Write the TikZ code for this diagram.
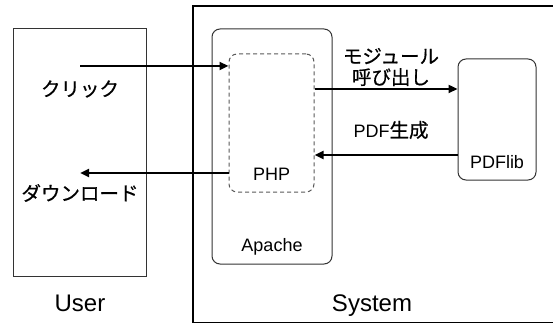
\documentclass[tikz,border=0pt]{standalone}
\usepackage{fontspec}
\setmainfont{Liberation Sans}
\newfontfamily\cjk[FakeBold=0.6]{Noto Sans CJK JP}
\usetikzlibrary{arrows.meta}
\begin{document}
\begin{tikzpicture}[x=1pt,y=-1pt,
  box/.style={draw=black!80, line width=1pt, inner sep=0},
  conn/.style={line width=2.4pt, -{Triangle[length=9pt,width=8pt]}},
  lbl/.style={inner sep=0, font=\fontsize{18}{21}\selectfont},
  jlbl/.style={inner sep=0, align=center, font=\cjk\fontsize{19.5}{21}\selectfont},
  big/.style={inner sep=0, font=\fontsize{24}{26}\selectfont}]
\useasboundingbox (0,0) rectangle (553,323);
\clip (0,0) rectangle (553,323);
% containers
\node[box, minimum width=133pt, minimum height=247pt] (user) at (79.5,152.5) {};
\node[draw=black, line width=2pt, inner sep=0, minimum width=360.6pt, minimum height=316.6pt] (system) at (373.3,164.3) {};
\node[box, rounded corners=8pt, minimum width=120pt, minimum height=235pt] (apache) at (272,146.5) {};
\node[draw=black!65, line width=1pt, dash pattern=on 4pt off 3pt, rounded corners=8pt, inner sep=0, minimum width=85pt, minimum height=138pt] (php) at (271.5,123) {};
\node[box, rounded corners=8pt, minimum width=78pt, minimum height=121pt] (pdflib) at (497,119.5) {};
% labels
\node[big, anchor=base] (userlbl) at (80,311) {User};
\node[big, anchor=base] (systemlbl) at (372,311) {System};
\node[lbl, anchor=base] (apachelbl) at (272,251) {Apache};
\node[lbl, anchor=base] (phplbl) at (271.5,180) {PHP};
\node[lbl, anchor=base] (pdfliblbl) at (497,168) {PDFlib};
\node[jlbl] (click) at (80,89) {クリック};
\node[jlbl] (dl) at (80,193) {ダウンロード};
\node[jlbl] (call) at (391,67) {モジュール\\呼び出し};
\node[inner sep=0] (gen) at (391,130) {\fontsize{18}{21}\selectfont PDF{\cjk\fontsize{19.5}{21}\selectfont 生成}};
% connectors
\coordinate (c1) at (80,66);
\coordinate (c2) at (80,173);
\coordinate (m) at (0,89);
\coordinate (g) at (0,155);
\draw[conn] (c1) -- (c1 -| php.west);
\draw[conn] (c2 -| php.west) -- (c2);
\draw[conn] (m -| php.east) -- (m -| pdflib.west);
\draw[conn] (g -| pdflib.west) -- (g -| php.east);
\end{tikzpicture}
\end{document}
